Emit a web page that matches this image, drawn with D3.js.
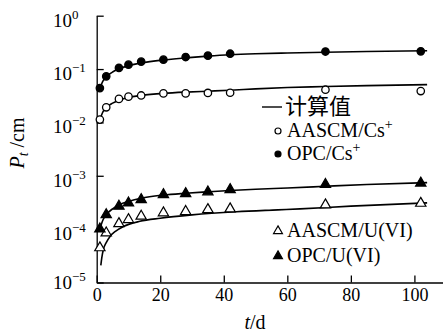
<!DOCTYPE html>
<html>
<head>
<meta charset="utf-8">
<script src="https://cdn.jsdelivr.net/npm/d3@7"></script>
<style>
  body { margin: 0; background: #fff; }
  svg { display: block; }
  text { font-family: "Liberation Serif", "Times New Roman", serif; fill: #000; }
</style>
</head>
<body>
<svg id="chart" width="443" height="335"></svg>
<script>
// Datos medidos (t en días)
const dias = [1, 3, 7, 10, 14, 21, 28, 35, 42, 72, 102];
const opcCs = [0.044, 0.073, 0.105, 0.121, 0.138, 0.150, 0.168, 0.178, 0.194, 0.213, 0.215];
const aascmCs = [0.0113, 0.0192, 0.0276, 0.0304, 0.032, 0.035, 0.035, 0.0357, 0.036, 0.041, 0.0387];
const opcU = [1.01e-4, 1.87e-4, 2.69e-4, 3.1e-4, 3.58e-4, 4.44e-4, 4.64e-4, 4.99e-4, 5.52e-4, 6.9e-4, 7.3e-4];
const aascmU = [4.47e-5, 8.5e-5, 1.27e-4, 1.51e-4, 1.75e-4, 2.02e-4, 2.14e-4, 2.33e-4, 2.40e-4, 2.85e-4, 3.05e-4];

// Curvas calculadas [t, Pt]
const curvaOpcCs = [[0.9, 0.042], [2, 0.06], [3.5, 0.076], [5, 0.088], [7, 0.1], [10, 0.116], [14, 0.13], [21, 0.148], [28, 0.162], [35, 0.175], [42, 0.186], [50, 0.194], [60, 0.2], [72, 0.207], [85, 0.213], [104, 0.22]];
const curvaAascmCs = [[0.9, 0.0108], [2, 0.016], [3, 0.019], [5, 0.023], [7, 0.026], [10, 0.0295], [14, 0.032], [21, 0.035], [28, 0.037], [35, 0.0385], [42, 0.040], [50, 0.0425], [60, 0.045], [72, 0.047], [85, 0.049], [104, 0.051]];
const curvaOpcU = [[0.8, 9.1e-5], [2, 1.5e-4], [3, 1.87e-4], [5, 2.4e-4], [7, 2.85e-4], [10, 3.3e-4], [14, 3.8e-4], [21, 4.35e-4], [28, 4.7e-4], [35, 5.0e-4], [42, 5.3e-4], [50, 5.6e-4], [60, 5.9e-4], [72, 6.35e-4], [85, 6.85e-4], [104, 7.45e-4]];
const curvaAascmU = [[1.3, 2.1e-5], [1.6, 2.9e-5], [2.1, 4.15e-5], [3, 5.6e-5], [4.2, 7.3e-5], [6, 9.2e-5], [8.4, 1.12e-4], [13.6, 1.4e-4], [20, 1.6e-4], [30, 1.85e-4], [44, 2.12e-4], [57, 2.3e-4], [64, 2.4e-4], [80, 2.7e-4], [104, 3.1e-4]];

const ticksX = [0, 20, 40, 60, 80, 100];
const ticksY = [1, 1e-1, 1e-2, 1e-3, 1e-4, 1e-5];
const exponentes = ["0", "\u22121", "\u22122", "\u22123", "\u22124", "\u22125"];

const svg = d3.select("#chart");

const x = d3.scaleLinear().domain([0, 109]).range([96.7, 443]);
const y = d3.scaleLog().domain([1e-5, 1]).range([282.5, 15.7]);

// Ejes
const ejeX = svg.append("g")
    .attr("transform", `translate(0,${y.range()[0]})`)
    .call(d3.axisBottom(x).tickValues(ticksX).tickSizeInner(-7).tickSizeOuter(0).tickPadding(6));
ejeX.selectAll("text").style("font-size", "18px").style("font-family", "Liberation Serif");

const ejeY = svg.append("g")
    .attr("transform", `translate(${x.range()[0]},0)`)
    .call(d3.axisLeft(y).tickValues(ticksY).tickSizeInner(-7).tickSizeOuter(0).tickFormat(""));

svg.selectAll(".domain, .tick line").attr("stroke", "#000").attr("stroke-width", 1.3);

// Etiquetas 10^n
ticksY.forEach((v, i) => {
    const off = i === ticksY.length - 1 ? 6 : 11;
    const t = svg.append("text")
        .attr("x", 53)
        .attr("y", y(v) + off)
        .style("font-size", "19px");
    t.append("tspan").text("10");
    t.append("tspan").attr("dy", -8).style("font-size", "13px").text(exponentes[i]);
});

// Curvas calculadas
const linea = d3.line()
    .x(d => x(d[0]))
    .y(d => y(d[1]))
    .curve(d3.curveMonotoneX);

[curvaOpcCs, curvaAascmCs, curvaOpcU, curvaAascmU].forEach(c => {
    svg.append("path")
        .datum(c)
        .attr("fill", "none")
        .attr("stroke", "#000")
        .attr("stroke-width", 1.6)
        .attr("d", linea);
});

// Puntos
function circulos(valores, relleno) {
    svg.append("g").selectAll("circle")
        .data(valores)
        .join("circle")
        .attr("cx", (d, i) => x(dias[i]))
        .attr("cy", d => y(d))
        .attr("r", 3.7)
        .attr("fill", relleno)
        .attr("stroke", "#000")
        .attr("stroke-width", 1.3);
}

const triangulo = d3.symbol(d3.symbolTriangle, 46);

function triangulos(valores, relleno) {
    svg.append("g").selectAll("path")
        .data(valores)
        .join("path")
        .attr("transform", (d, i) => `translate(${x(dias[i])},${y(d)})`)
        .attr("d", triangulo)
        .attr("fill", relleno)
        .attr("stroke", "#000")
        .attr("stroke-width", 1.2);
}

circulos(aascmCs, "#fff");
circulos(opcCs, "#000");
triangulos(aascmU, "#fff");
triangulos(opcU, "#000");

// Leyenda
svg.append("line")
    .attr("x1", 262).attr("x2", 282)
    .attr("y1", 107).attr("y2", 107)
    .attr("stroke", "#000").attr("stroke-width", 1.4);
svg.append("text")
    .attr("x", 285).attr("y", 114)
    .style("font-family", "Noto Sans CJK SC")
    .style("font-size", "22px")
    .text("计算值");

const leyenda = [
    { nombre: "AASCM/Cs", sup: "+", tipo: "c", relleno: "#fff", y: 131 },
    { nombre: "OPC/Cs", sup: "+", tipo: "c", relleno: "#000", y: 154 },
    { nombre: "AASCM/U(VI)", sup: "", tipo: "t", relleno: "#fff", y: 231 },
    { nombre: "OPC/U(VI)", sup: "", tipo: "t", relleno: "#000", y: 256 }
];

leyenda.forEach(d => {
    if (d.tipo === "c") {
        svg.append("circle")
            .attr("cx", 278).attr("cy", d.y).attr("r", 3)
            .attr("fill", d.relleno).attr("stroke", "#000").attr("stroke-width", 1.2);
    } else {
        svg.append("path")
            .attr("transform", `translate(278,${d.y})`)
            .attr("d", d3.symbol(d3.symbolTriangle, 34))
            .attr("fill", d.relleno).attr("stroke", "#000").attr("stroke-width", 1.2);
    }
    const t = svg.append("text")
        .attr("x", 287).attr("y", d.y + 6)
        .style("font-size", "20px");
    t.append("tspan").text(d.nombre);
    if (d.sup) t.append("tspan").attr("dy", -8).style("font-size", "14px").text(d.sup);
});

// Títulos de ejes
const tituloY = svg.append("text")
    .attr("transform", "translate(24,143) rotate(-90)")
    .attr("text-anchor", "middle")
    .style("font-size", "20px");
tituloY.append("tspan").style("font-style", "italic").text("P");
tituloY.append("tspan").attr("dy", 4).style("font-style", "italic").style("font-size", "14px").text("t");
tituloY.append("tspan").attr("dy", -4).text(" /cm");

const tituloX = svg.append("text")
    .attr("x", 255).attr("y", 329)
    .attr("text-anchor", "middle")
    .style("font-size", "20px");
tituloX.append("tspan").style("font-style", "italic").text("t");
tituloX.append("tspan").text("/d");
</script>
</body>
</html>
